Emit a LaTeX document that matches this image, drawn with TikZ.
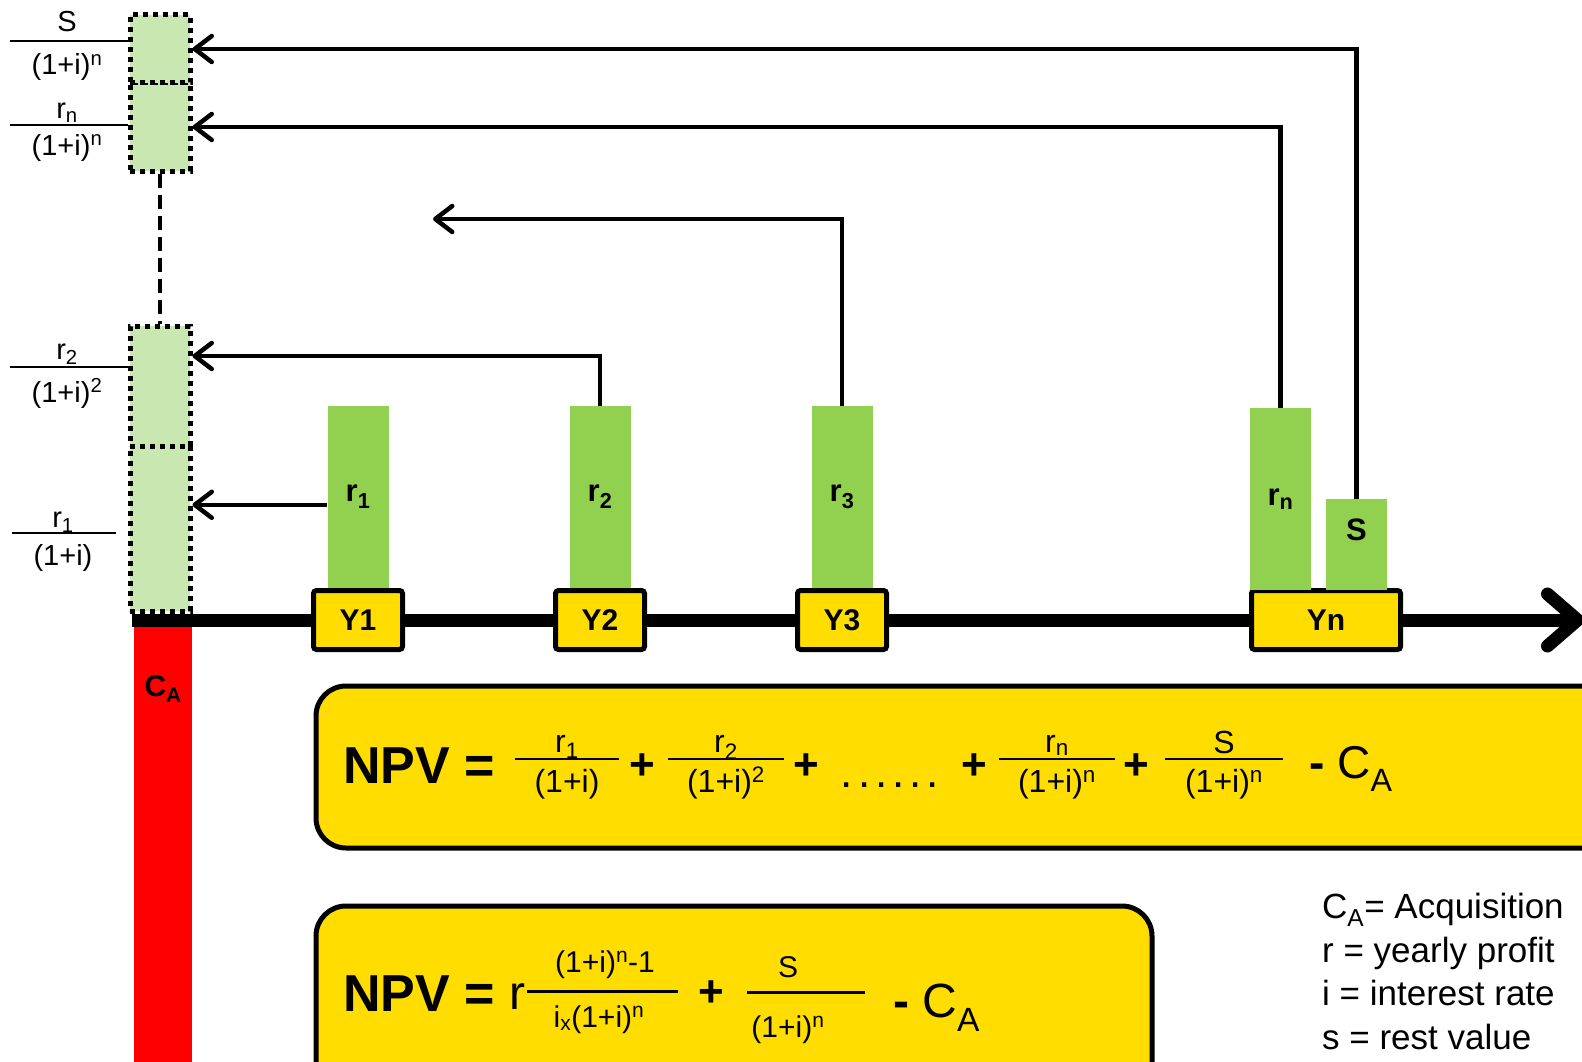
\documentclass[tikz,border=0pt]{standalone}
\usepackage{fontspec}
\setmainfont{Liberation Sans}
\usetikzlibrary{arrows.meta,positioning,calc}

\definecolor{barGreen}{RGB}{146,208,80}
\definecolor{paleGreen}{RGB}{201,231,176}
\definecolor{boxYellow}{RGB}{255,221,0}
\definecolor{caRed}{RGB}{255,0,0}

\newcommand{\fsz}[1]{\fontsize{#1}{#1}\selectfont}

\tikzset{
  pvbox/.style={draw, line width=5pt, dash pattern=on 5pt off 5pt,
    fill=paleGreen, minimum width=60pt, inner sep=0pt},
  cashbar/.style={fill=barGreen, minimum width=61pt, inner sep=0pt,
    font=\fsz{31}\bfseries},
  yearbox/.style={draw, line width=5pt, fill=boxYellow, rounded corners=3pt,
    minimum height=59pt, inner sep=0pt, font=\fsz{30}\bfseries},
  flow/.style={line width=4.5pt, -{Straight Barb[length=17pt,width=26pt,round]}},
  lbl/.style={font=\fsz{29}, inner sep=0pt, anchor=base},
  fracbar/.style={line width=1.5pt},
  formbox/.style={draw, line width=5pt, fill=boxYellow, rounded corners=30pt,
    anchor=north west, inner sep=0pt},
  npv/.style={font=\fsz{52}\bfseries, inner sep=0pt},
  term/.style={font=\fsz{32}, inner sep=0pt, anchor=base},
  plus/.style={font=\fsz{44}\bfseries, inner sep=0pt}
}

\begin{document}
\begin{tikzpicture}[x=1pt, y=-1pt]
  \clip (0,0) rectangle (1582,1062);
  \useasboundingbox (0,0) rectangle (1582,1062);

  % discounted values at t = 0
  \node[pvbox, minimum height=165pt] (pv1) at (160,528.5) {};
  \node[pvbox, minimum height=120pt] (pv2) at (160,386) {};
  \node[pvbox, minimum height=88pt] (pvn) at (160,127) {};
  \node[pvbox, minimum height=68pt] (pvs) at (160,49) {};
  \draw[line width=4.5pt, dash pattern=on 14pt off 7pt] (pvn.south) -- (pv2.north);

  % acquisition cost
  \node[fill=caRed, minimum width=58pt, minimum height=480pt, inner sep=0pt,
    anchor=north west] (ca) at (134,627) {};
  \node[font=\fsz{30}\bfseries, inner sep=0pt] (calbl) at ([yshift=-62pt]ca.north) {C\textsubscript{A}};

  % time axis
  \coordinate (t0) at (132,620);
  \coordinate (tend) at (1584,620);
  \draw[line width=13pt, -{Straight Barb[length=30pt,width=52pt,round]}] (t0) -- (tend);

  % years
  \node[yearbox, minimum width=89pt] (y1) at (358,620) {Y1};
  \node[yearbox, minimum width=89pt] (y2) at (600,620) {Y2};
  \node[yearbox, minimum width=89pt] (y3) at (842,620) {Y3};
  \node[yearbox, minimum width=149pt] (yn) at (1326,620) {Yn};

  % yearly cash flows
  \node[cashbar, minimum height=182pt, above=0pt of y1] (cf1) {r\textsubscript{1}};
  \node[cashbar, minimum height=182pt, above=0pt of y2] (cf2) {r\textsubscript{2}};
  \node[cashbar, minimum height=182pt, above=0pt of y3] (cf3) {r\textsubscript{3}};
  \node[cashbar, minimum height=182pt, anchor=south] (cfn) at (1280.5,590.5) {r\textsubscript{n}};
  \node[cashbar, minimum height=91pt, anchor=south] (cfs) at (1356.5,590.5) {};
  \node[font=\fsz{31}\bfseries, inner sep=0pt] (slbl) at ([yshift=15pt]cfs.center) {S};

  % discounting back to t = 0
  \draw[flow] ([yshift=-8pt]cf1.west) -- ([yshift=-8pt]cf1.west -| pv1.east);
  \draw[flow] (cf2.north) |- ([yshift=30pt]pv2.east);
  \coordinate (open3) at (433,219);
  \draw[flow] (cf3.north) |- (open3);
  \draw[flow] (cfn.north) |- (pvn.east);
  \draw[flow] (cfs.north) |- (pvs.east);

  % labels of the discounted values
  \draw[fracbar] (10,41) -- (128,41);
  \node[lbl] at (67,32) {S};
  \node[lbl] at (67,75) {(1+i)\textsuperscript{n}};
  \draw[fracbar] (10,125) -- (128,125);
  \node[lbl] at (67,119) {r\textsubscript{n}};
  \node[lbl] at (67,155) {(1+i)\textsuperscript{n}};
  \draw[fracbar] (10,367) -- (128,367);
  \node[lbl] at (67,359) {r\textsubscript{2}};
  \node[lbl] at (67,402) {(1+i)\textsuperscript{2}};
  \draw[fracbar] (12,533) -- (116,533);
  \node[lbl] at (63,527) {r\textsubscript{1}};
  \node[lbl] at (63,565) {(1+i)};

  % NPV, full sum
  \node[formbox, minimum width=1400pt, minimum height=162pt] (npv1) at (313.5,683.5) {};
  \node[npv] at (419,766) {NPV =};
  \draw[fracbar] (515,759) -- (619,759);
  \node[term] at (567,752) {r\textsubscript{1}};
  \node[term] at (567,792) {(1+i)};
  \node[plus] at (642,767) {+};
  \draw[fracbar] (668,759) -- (784,759);
  \node[term] at (726,752) {r\textsubscript{2}};
  \node[term] at (726,792) {(1+i)\textsuperscript{2}};
  \node[plus] at (806,767) {+};
  \node[font=\fsz{44}, inner sep=0pt, anchor=base] at (890,787)
    {.\kern5pt.\kern5pt.\kern5pt.\kern5pt.\kern5pt.};
  \node[plus] at (974,767) {+};
  \draw[fracbar] (999,759) -- (1115,759);
  \node[term] at (1057,752) {r\textsubscript{n}};
  \node[term] at (1057,792) {(1+i)\textsuperscript{n}};
  \node[plus] at (1136,767) {+};
  \draw[fracbar] (1165,759) -- (1283,759);
  \node[term] at (1224,753) {S};
  \node[term] at (1224,792) {(1+i)\textsuperscript{n}};
  \node[font=\fsz{46}, inner sep=0pt, anchor=base west] at (1309,778)
    {\textbf{-} C\textsubscript{A}};

  % NPV, constant yearly profit
  \node[formbox, minimum width=836pt, minimum height=300pt] (npv2) at (313.5,903.5) {};
  \node[npv] at (419,994) {NPV =};
  \node[font=\fsz{48}, inner sep=0pt, anchor=base] at (517,1009) {r};
  \draw[line width=3pt] (527,991) -- (678,991);
  \node[term, font=\fsz{30}] at (605,972) {(1+i)\textsuperscript{n}-1};
  \node[term, font=\fsz{30}] at (599,1027) {i\textsubscript{x}(1+i)\textsuperscript{n}};
  \node[plus] at (711,994) {+};
  \draw[line width=3pt] (747,992) -- (865,992);
  \node[term, font=\fsz{30}] at (788,977) {S};
  \node[term, font=\fsz{30}] at (788,1037) {(1+i)\textsuperscript{n}};
  \node[font=\fsz{48}, inner sep=0pt, anchor=base west] at (893,1017)
    {\textbf{-} C\textsubscript{A}};

  % legend
  \node[anchor=north west, align=left, inner sep=0pt,
    font=\fontsize{35}{43.5}\selectfont] (legend) at (1322,893)
    {C\textsubscript{A}= Acquisition\\r = yearly profit\\i = interest rate\\s = rest value};
\end{tikzpicture}
\end{document}
